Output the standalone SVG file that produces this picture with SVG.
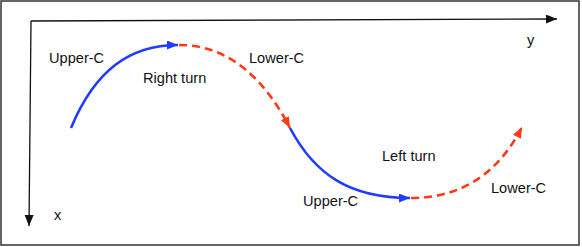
<svg xmlns="http://www.w3.org/2000/svg" width="582" height="247" viewBox="0 0 582 247">
<defs>
<style>
text{font-family:"Liberation Sans",Arial,Helvetica,sans-serif;font-size:14.6px;fill:#111}
.axis{stroke:#111;stroke-width:1.3;fill:none}
.blue{stroke:#1f3cff;stroke-width:2.6;fill:none}
.red{stroke:#ff3a1a;stroke-width:2.6;fill:none;stroke-dasharray:8 5}
</style>
<marker id="ak" markerUnits="userSpaceOnUse" markerWidth="12" markerHeight="10" refX="11" refY="4.5" orient="auto"><path d="M0,0 L11,4.5 L0,9 Z" fill="#111"/></marker>
<marker id="ab" markerUnits="userSpaceOnUse" markerWidth="12" markerHeight="10" refX="11" refY="4.5" orient="auto"><path d="M0,0 L11,4.5 L0,9 Z" fill="#1f3cff"/></marker>
<marker id="ar" markerUnits="userSpaceOnUse" markerWidth="12" markerHeight="10" refX="11" refY="4.5" orient="auto"><path d="M0,0 L11,4.5 L0,9 Z" fill="#ff3a1a"/></marker>
</defs>
<rect x="1" y="1" width="578" height="244" fill="#fff" stroke="#333" stroke-width="1.5"/>
<g id="connectors">
<path class="axis" d="M31,21 L557,19" marker-end="url(#ak)"/>
<path class="axis" d="M31,21 L29,226" marker-end="url(#ak)"/>
<path class="blue" d="M71,128 C95,70 130,45 178,45" marker-end="url(#ab)"/>
<path class="red" d="M179,45 C230,45 265,80 290,128" marker-end="url(#ar)"/>
<path class="blue" d="M290,128 C315,175 350,198 410,198" marker-end="url(#ab)"/>
<path class="red" d="M411,198 C465,198 500,170 522,127" marker-end="url(#ar)"/>
</g>
<g id="labels">
<text x="49" y="63">Upper-C</text>
<text x="143" y="83">Right turn</text>
<text x="249" y="63">Lower-C</text>
<text x="527" y="45">y</text>
<text x="54" y="220">x</text>
<text x="382" y="161">Left turn</text>
<text x="303" y="206">Upper-C</text>
<text x="491" y="193">Lower-C</text>
</g>
</svg>
